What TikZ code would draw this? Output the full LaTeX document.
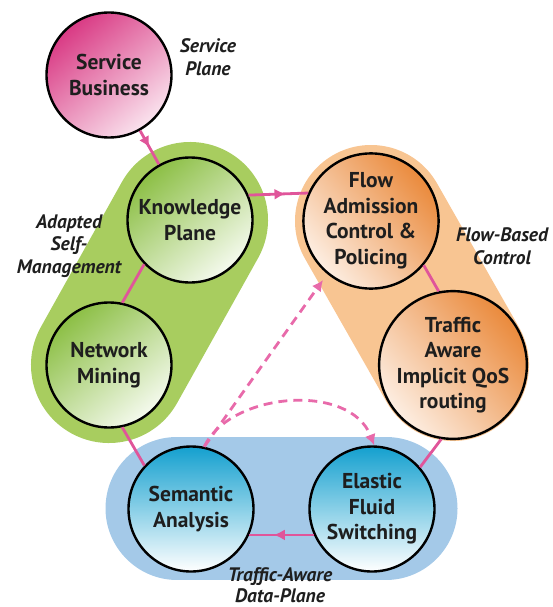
\documentclass[tikz,border=0pt]{standalone}
\usepackage{fontspec}
\setmainfont{PT Sans}
\usetikzlibrary{arrows.meta,decorations.markings}
\definecolor{lnk}{HTML}{E0559A}
\definecolor{dsh}{HTML}{E86AAA}
\definecolor{greenb}{HTML}{A8CD5F}
\definecolor{orangeb}{HTML}{F8C592}
\definecolor{blueb}{HTML}{A4C9E8}
\definecolor{pinkd}{HTML}{D93A84}
\definecolor{pinkl}{HTML}{FAE3EE}
\definecolor{greend}{HTML}{8CBF45}
\definecolor{greenl}{HTML}{F5FAEE}
\definecolor{oranged}{HTML}{EA8A3C}
\definecolor{orangel}{HTML}{FDEEE2}
\definecolor{blued}{HTML}{14A0CF}
\definecolor{bluel}{HTML}{FFFFFF}
\definecolor{txt}{HTML}{1E1E1E}
\tikzset{
  bub/.style={circle, draw=black, line width=2.4pt, minimum size=125pt, inner sep=0pt,
    align=center, text=txt, font=\fontsize{21.5}{25.5}\selectfont\bfseries},
  capsule/.style={line width=#1, line cap=round},
  conn/.style={draw=lnk, line width=2.8pt},
  midarrow/.style={conn, postaction={decorate}, decoration={markings,
    mark=at position #1 with {\arrow{Latex[length=11pt,width=11pt]}}}},
  dasharrow/.style={draw=dsh, line width=2.8pt, dash pattern=on 9pt off 6pt,
    -{Latex[length=11pt,width=11pt]}},
  plane/.style={align=center, text=txt, font=\fontsize{19.5}{22.5}\selectfont\bfseries\itshape}
}
\begin{document}
\begin{tikzpicture}[x=1pt,y=-1pt]
\useasboundingbox (0,0) rectangle (552,607);
% centres
\coordinate (csb) at (109,75);
\coordinate (ckp) at (190,220);
\coordinate (cnm) at (109,365);
\coordinate (cfa) at (371,221);
\coordinate (cta) at (453,365);
\coordinate (csa) at (191,509);
\coordinate (ces) at (372,509);
% background capsules
\draw[capsule=156pt, greenb] (ckp) -- (cnm);
\draw[capsule=152pt, orangeb] (cfa) -- (cta);
\draw[capsule=143pt, blueb] (177,508) -- (386,508);
% bubbles
\node[bub, top color=pinkd, bottom color=pinkl, shading angle=40] (sb) at (csb) {Service\\Business};
\node[bub, top color=greend, bottom color=greenl, shading angle=40] (kp) at (ckp) {Knowledge\\Plane};
\node[bub, top color=greend, bottom color=greenl, shading angle=40] (nm) at (cnm) {Network\\Mining};
\node[bub, top color=oranged, bottom color=orangel, shading angle=-50] (fa) at (cfa) {Flow\\Admission\\Control \&\\Policing};
\node[bub, top color=oranged, bottom color=orangel, shading angle=-50] (ta) at (cta) {Traffic\\Aware\\Implicit QoS\\routing};
\node[bub, top color=blued, bottom color=bluel] (sa) at (csa) {Semantic\\Analysis};
\node[bub, top color=blued, bottom color=bluel] (es) at (ces) {Elastic\\Fluid\\Switching};
% connectors
\path[midarrow=0.5] (sb) -- (kp);
\path[midarrow=0.62] (kp.23) -- (fa.156);
\path[conn] (kp.224) -- (nm.78);
\path[conn] (fa.-40) -- (ta.101);
\path[conn] (ta.261) -- (es.41);
\path[conn] (nm.282) -- (sa.137);
\path[midarrow=0.62] (es.204) -- (sa.-24);
\coordinate (dend) at (323,280);
\draw[dasharrow] (sa.78) -- (dend);
\draw[dasharrow] (sa.78) .. controls (230,392) and (350,382) .. (es.88);
% plane labels
\node[plane] (lsp) at (208,57) {Service\\Plane};
\node[plane] (las) at (69,246) {Adapted\\Self-\\Management};
\node[plane] (lfb) at (502,246) {Flow-Based\\Control};
\node[plane, font=\fontsize{19.5}{21}\selectfont\bfseries\itshape] (ltd) at (280,585) {Traffic-Aware\\Data-Plane};
\end{tikzpicture}
\end{document}
